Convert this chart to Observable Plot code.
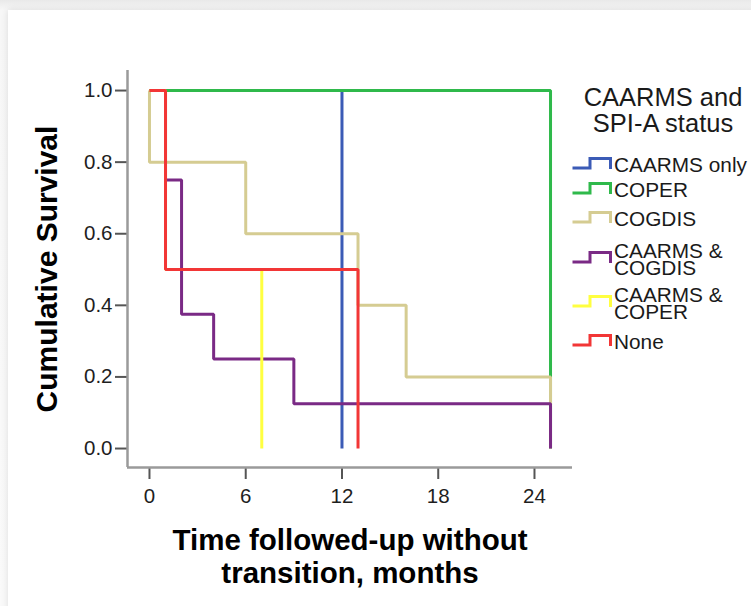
<!DOCTYPE html>
<html>
<head>
<meta charset="utf-8">
<script src="https://cdn.jsdelivr.net/npm/d3@7"></script>
<script src="https://cdn.jsdelivr.net/npm/@observablehq/plot@0.6"></script>
<style>
  html, body { margin: 0; padding: 0; background: #ececec; }
  #page { position: relative; width: 751px; height: 606px; overflow: hidden; background: linear-gradient(#e9e9e9, #f7f7f7 10px, #fafafa); }
  #card { position: absolute; left: 8px; top: 10px; right: -10px; bottom: -10px; background: #fff; box-shadow: 0 0 7px rgba(0,0,0,0.12); }
  #chart { position: absolute; left: 0; top: 0; }
  #legend { position: absolute; left: 0; top: 0; width: 751px; height: 606px; font-family: "Liberation Sans", Arial, sans-serif; color: #1a1a1a; pointer-events: none; }
  .ltitle { position: absolute; left: 571px; width: 184px; text-align: center; font-size: 25.5px; line-height: 26px; }
  .lrow { position: absolute; left: 571px; display: flex; align-items: center; }
  .ltext { font-size: 20.8px; line-height: 16.5px; white-space: pre-line; margin-left: 1px; }
</style>
</head>
<body>
<div id="page">
  <div id="card"></div>
  <div id="chart"></div>
  <div id="legend"></div>
</div>
<script>
// ---- data ----
const groups = ["CAARMS only", "COPER", "COGDIS", "CAARMS & COGDIS", "CAARMS & COPER", "None"];
const colors = ["#3b5bb6", "#2fb94b", "#d5cc92", "#7a2a85", "#ffff40", "#f23636"];
// Kaplan–Meier step points per group: time (months) and cumulative survival
const caarmsOnlyTime = [0, 12];
const caarmsOnlySurv = [1, 0];
const coperTime = [0, 25];
const coperSurv = [1, 0];
const cogdisTime = [0, 0, 6, 13, 16, 25];
const cogdisSurv = [1, 0.8, 0.6, 0.4, 0.2, 0];
const caarmsCogdisTime = [0, 1, 2, 4, 9, 25];
const caarmsCogdisSurv = [1, 0.75, 0.375, 0.25, 0.125, 0];
const caarmsCoperTime = [0, 1, 7];
const caarmsCoperSurv = [1, 0.5, 0];
const noneTime = [0, 1, 13];
const noneSurv = [1, 0.5, 0];

const xTicks = [0, 6, 12, 18, 24];
const yTicks = [0, 0.2, 0.4, 0.6, 0.8, 1.0];
const xDomain = [-1.37, 26.37];
const yDomain = [-0.053, 1.056];
const xTitle = "Time followed-up without\ntransition, months";
const yTitle = "Cumulative Survival";
const legendTitle = "CAARMS and\nSPI-A status";

const seriesTimes = [caarmsOnlyTime, coperTime, cogdisTime, caarmsCogdisTime, caarmsCoperTime, noneTime];
const seriesSurv = [caarmsOnlySurv, coperSurv, cogdisSurv, caarmsCogdisSurv, caarmsCoperSurv, noneSurv];

const table = [];
groups.forEach((g, i) => {
  seriesTimes[i].forEach((t, j) => table.push({group: g, t, s: seriesSurv[i][j]}));
});

const font = "'Liberation Sans', Arial, sans-serif";

const chart = Plot.plot({
  width: 751,
  height: 606,
  marginLeft: 127,
  marginRight: 179,
  marginTop: 70,
  marginBottom: 139,
  style: {background: "transparent", fontFamily: font, color: "#1e1e1e", overflow: "visible"},
  x: {domain: xDomain},
  y: {domain: yDomain},
  color: {domain: groups, range: colors},
  marks: [
    Plot.axisX({ticks: xTicks, tickSize: 12, tickPadding: 9, fontSize: 20.5, stroke: "#555", strokeWidth: 2, label: null}),
    Plot.axisY({ticks: yTicks, tickFormat: d3.format(".1f"), tickSize: 12, tickPadding: 3, fontSize: 20.5, stroke: "#555", strokeWidth: 2, label: null}),
    Plot.ruleY([yDomain[0]], {stroke: "#9a9a9a", strokeWidth: 2.5}),
    Plot.ruleX([xDomain[0]], {stroke: "#9a9a9a", strokeWidth: 2.5}),
    Plot.line(table, {x: "t", y: "s", z: "group", stroke: "group", curve: "step-after", strokeWidth: 3, strokeLinejoin: "miter", strokeLinecap: "butt"}),
    Plot.text([yTitle], {frameAnchor: "left", dx: -80, rotate: -90, textAnchor: "middle", fontSize: 30, fontWeight: "bold", fill: "#000"}),
    Plot.text([xTitle], {frameAnchor: "bottom", dy: 59, lineAnchor: "top", lineHeight: 1.12, fontSize: 29.5, fontWeight: "bold", fill: "#000"})
  ]
});
document.getElementById("chart").appendChild(chart);

// ---- legend (HTML, to the right of the plot) ----
const legend = document.getElementById("legend");
const t = document.createElement("div");
t.className = "ltitle";
t.style.top = "84px";
t.style.whiteSpace = "pre-line";
t.textContent = legendTitle;
legend.appendChild(t);

const rowCenters = [165, 190.5, 219.5, 259.5, 303.5, 342];
groups.forEach((g, i) => {
  const row = document.createElement("div");
  row.className = "lrow";
  const twoLine = g.includes("&");
  const h = twoLine ? 33 : 17;
  row.style.top = (rowCenters[i] - h / 2) + "px";
  row.style.height = h + "px";
  row.innerHTML = `<svg width="42" height="16" style="display:block;margin-top:-3px"><polyline points="1.5,12 19,12 19,2.5 39.5,2.5 39.5,13" fill="none" stroke="${colors[i]}" stroke-width="3" stroke-linejoin="miter"/></svg>`;
  const tx = document.createElement("div");
  tx.className = "ltext";
  tx.textContent = g.replace("& ", "&\n");
  row.appendChild(tx);
  legend.appendChild(row);
});
</script>
</body>
</html>
